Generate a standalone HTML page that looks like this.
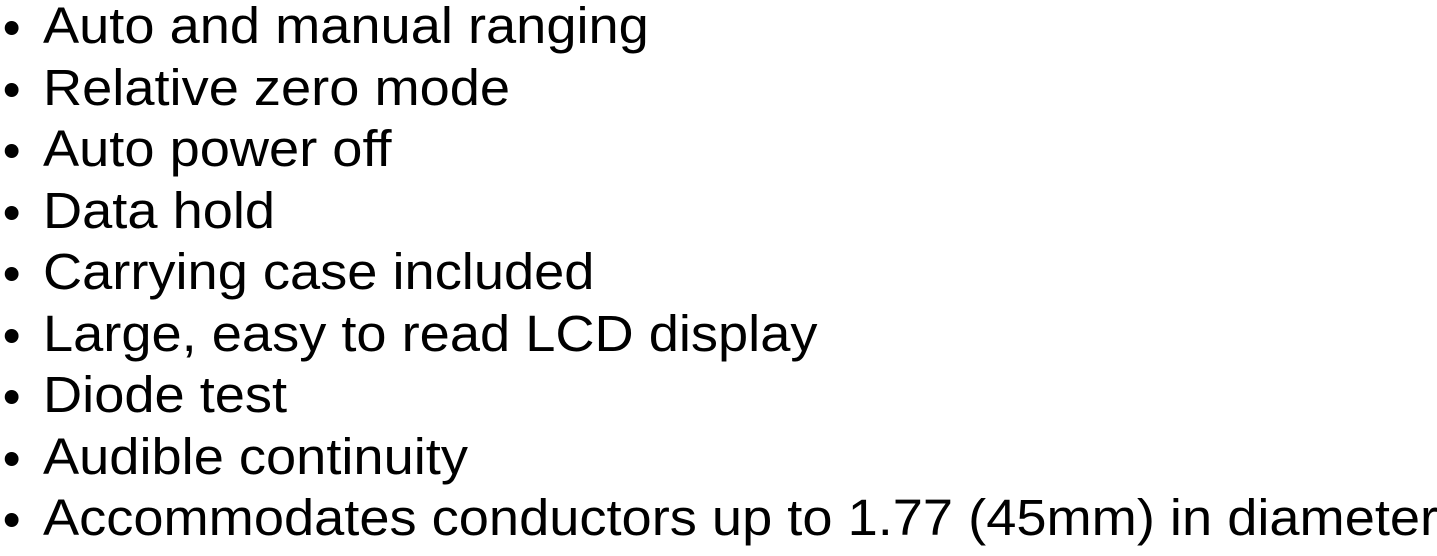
<!DOCTYPE html>
<html><head><style>
html,body{margin:0;padding:0;background:#fff;width:1437px;height:556px;overflow:hidden}
ul{list-style:none;margin:0;padding:0;position:absolute;top:-5px;left:43px;font-family:"Liberation Sans",Arial,sans-serif;font-size:51px;line-height:61.5px;color:#000;white-space:nowrap;transform:scaleX(1.063);transform-origin:0 0}
li{position:relative}
li:before{content:"";position:absolute;left:-36px;top:26px;width:13px;height:14px;border-radius:50%;background:#000}
</style></head><body>
<ul>
<li>Auto and manual ranging</li>
<li>Relative zero mode</li>
<li>Auto power off</li>
<li>Data hold</li>
<li>Carrying case included</li>
<li>Large, easy to read LCD display</li>
<li>Diode test</li>
<li>Audible continuity</li>
<li>Accommodates conductors up to 1.77 (45mm) in diameter</li>
</ul>
</body></html>
